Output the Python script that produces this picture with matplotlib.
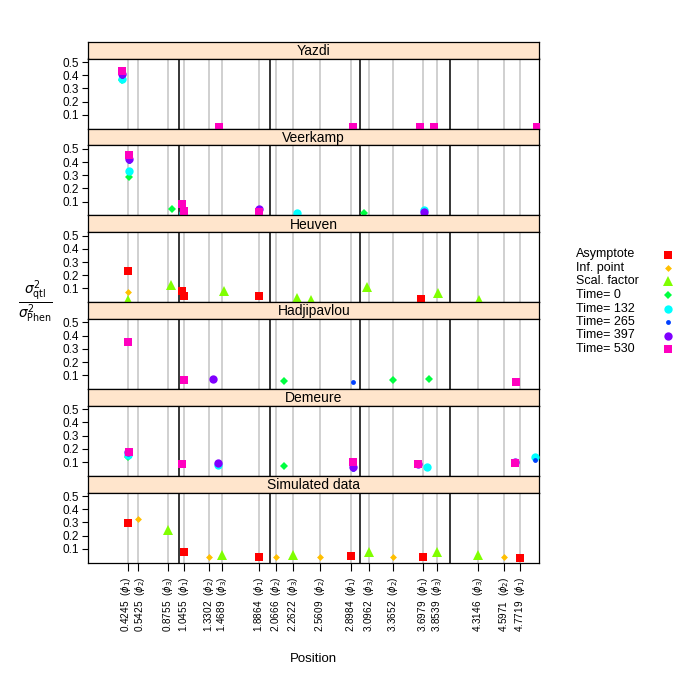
import matplotlib
matplotlib.use("Agg")
import matplotlib.pyplot as plt

plt.rcParams['font.family'] = ['Liberation Sans', 'DejaVu Sans']

# simulated QTL positions and parameter index (1 = asymptote, 2 = inf. point, 3 = scal. factor)
qtl_pos = [0.4245, 0.5425, 0.8755, 1.0455, 1.3302, 1.4689, 1.8864, 2.0666, 2.2622,
           2.5609, 2.8984, 3.0962, 3.3652, 3.6979, 3.8539, 4.3146, 4.5971, 4.7719]
qtl_par = [1, 2, 3, 1, 2, 3, 1, 2, 3, 2, 1, 3, 2, 1, 3, 3, 2, 1]
chrom_bounds = [1, 2, 3, 4]

panels = ["Yazdi", "Veerkamp", "Heuven", "Hadjipavlou", "Demeure", "Simulated data"]

yazdi_pos = [0.366, 0.366, 0.366, 0.366, 0.366, 1.438, 2.927, 3.666, 3.821, 4.965]
yazdi_val = [0.365, 0.37, 0.395, 0.41, 0.435, 0.005, 0.005, 0.005, 0.005, 0.005]
yazdi_typ = ['0', '132', '265', '397', '530', '530', '530', '530', '530', '530']

veer_pos = [0.436, 0.436, 0.436, 0.436, 0.436, 0.913, 1.035, 1.031, 1.046,
            1.881, 1.881, 2.306, 3.049, 3.714, 3.714]
veer_val = [0.285, 0.335, 0.405, 0.42, 0.45, 0.042, 0.015, 0.085, 0.03,
            0.045, 0.022, 0.015, 0.018, 0.04, 0.02]
veer_typ = ['0', '132', '265', '397', '530', '0', '132', '530', '530',
            '397', '530', '132', '0', '132', '397']

heu_pos = [0.432, 0.432, 0.432, 0.905, 1.031, 1.046, 1.489, 1.881, 2.306,
           2.458, 3.078, 3.677, 3.869, 4.316]
heu_val = [0.23, 0.072, 0.015, 0.13, 0.08, 0.045, 0.078, 0.045, 0.025,
           0.015, 0.112, 0.02, 0.065, 0.013]
heu_typ = ['A', 'I', 'S', 'S', 'A', 'A', 'S', 'A', 'S', 'S', 'S', 'A', 'S', 'S']

hadj_pos = [0.425, 1.046, 1.375, 2.162, 2.927, 3.37, 3.769, 4.73]
hadj_val = [0.35, 0.068, 0.075, 0.055, 0.053, 0.068, 0.075, 0.053]
hadj_typ = ['530', '530', '397', '0', '265', '0', '0', '530']

dem_pos = [0.432, 0.432, 0.432, 0.436, 1.031, 1.423, 1.423, 1.423, 2.162,
           2.92, 2.92, 2.92, 3.64, 3.64, 3.74, 4.72, 4.72, 4.941, 4.941]
dem_val = [0.14, 0.15, 0.18, 0.18, 0.083, 0.08, 0.09, 0.095, 0.073,
           0.045, 0.06, 0.1, 0.085, 0.083, 0.063, 0.1, 0.09, 0.138, 0.115]
dem_typ = ['0', '132', '397', '530', '530', '132', '265', '397', '0',
           '265', '397', '530', '397', '530', '132', '397', '530', '132', '265']

sim_pos = qtl_pos
sim_val = [0.298, 0.328, 0.24, 0.075, 0.04, 0.055, 0.04, 0.04, 0.055,
           0.04, 0.045, 0.075, 0.04, 0.035, 0.078, 0.055, 0.04, 0.03]
sim_typ = [{1: 'A', 2: 'I', 3: 'S'}[p] for p in qtl_par]

panel_data = [(yazdi_pos, yazdi_val, yazdi_typ), (veer_pos, veer_val, veer_typ),
              (heu_pos, heu_val, heu_typ), (hadj_pos, hadj_val, hadj_typ),
              (dem_pos, dem_val, dem_typ), (sim_pos, sim_val, sim_typ)]

series = ['A', 'I', 'S', '0', '132', '265', '397', '530']
labels = ['Asymptote', 'Inf. point', 'Scal. factor', 'Time= 0', 'Time= 132',
          'Time= 265', 'Time= 397', 'Time= 530']
colors = ['#FF0000', '#FFBF00', '#80FF00', '#00FF40', '#00FFFF', '#0040FF', '#8000FF', '#FF00BF']
markers = ['s', 'D', '^', 'D', 'o', 'o', 'o', 's']
msizes = [6, 3.5, 7.5, 4.5, 6, 3.5, 6, 5.5]

W = 685.0
fig = plt.figure(figsize=(6.85, 6.85), dpi=100)

left = 88.3 / W
width = (539.3 - 88.3) / W
strip_h = 16.8
plot_h = 70.0

for i, name in enumerate(panels):
    top = 41.7 + 86.8 * i
    sax = fig.add_axes([left, 1 - (top + strip_h) / W, width, strip_h / W])
    sax.set_facecolor('#FFE5CC')
    sax.set_xticks([])
    sax.set_yticks([])
    for s in sax.spines.values():
        s.set_linewidth(0.9)
    sax.text(0.5, 0.45, name, ha='center', va='center', fontsize=10, transform=sax.transAxes)

    ax = fig.add_axes([left, 1 - (top + strip_h + plot_h) / W, width, plot_h / W])
    for p in qtl_pos:
        ax.axvline(p, color='#C8C8C8', lw=1.2, zorder=1)
    for b in chrom_bounds:
        ax.axvline(b, color='black', lw=1.1, zorder=1)

    pos, val, typ = panel_data[i]
    for s, c, m, ms in zip(series, colors, markers, msizes):
        xs = [x for x, t in zip(pos, typ) if t == s]
        ys = [y for y, t in zip(val, typ) if t == s]
        if xs:
            ax.plot(xs, ys, ls='none', marker=m, color=c, ms=ms, mew=0, zorder=3)

    ax.set_xlim(-0.011, 4.989)
    ax.set_ylim(-0.003, 0.527)
    ax.set_yticks([0.1, 0.2, 0.3, 0.4, 0.5])
    ax.set_yticklabels(['0.1', '0.2', '0.3', '0.4', '0.5'], fontsize=8.5)
    ax.tick_params(axis='y', length=4.5, width=0.8, pad=2)
    for s in ax.spines.values():
        s.set_linewidth(0.9)
    if i == len(panels) - 1:
        ax.set_xticks(qtl_pos)
        ax.set_xticklabels([])
        ax.tick_params(axis='x', length=6, width=0.8)
        for j, (p, k) in enumerate(zip(qtl_pos, qtl_par)):
            dx = -2 if j == 0 else (2 if j == 1 else 0)
            ax.annotate('%.4f  ($\\phi_%d$)' % (p, k), xy=(p, 0), xycoords=('data', 'axes fraction'),
                        xytext=(dx, -14), textcoords='offset pixels', rotation=90,
                        ha='center', va='top', fontsize=7.2)
    else:
        ax.set_xticks([])

fig.text(313.8 / W, 1 - 659 / W, 'Position', ha='center', va='center', fontsize=9.5)

fig.text(0.052, 1 - 302 / W, r'$\frac{\sigma^2_{\mathrm{qtl}}}{\sigma^2_{\mathrm{Phen}}}$',
         ha='center', va='center', fontsize=14)

# legend
for j, (lab, c, m, ms) in enumerate(zip(labels, colors, markers, msizes)):
    yy = 1 - (254.5 + 13.5 * j) / W
    fig.text(576 / W, yy, lab, ha='left', va='center', fontsize=9)
    fig.lines.append(plt.Line2D([667.7 / W], [yy], transform=fig.transFigure, ls='none',
                                marker=m, color=c, ms=ms, mew=0))

fig.savefig('out.png', dpi=100)
